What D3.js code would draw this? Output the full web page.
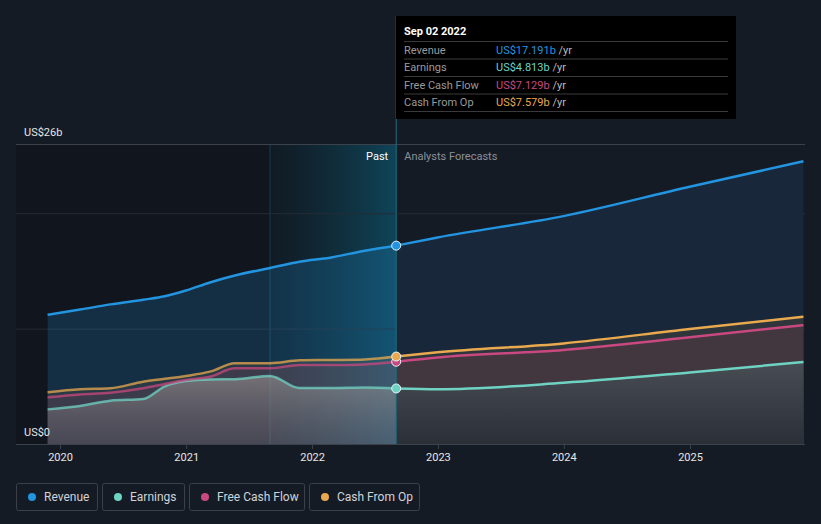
<!DOCTYPE html>
<html>
<head>
<meta charset="utf-8">
<script src="https://cdn.jsdelivr.net/npm/d3@7"></script>
<style>
  body { margin: 0; background: #151b25; font-family: Roboto, "Open Sans", sans-serif; }
  svg { display: block; }
</style>
</head>
<body>
<script>
// Revenue / earnings / cash flow history and analyst forecasts (US$ billions)

var pastDates = ["2019-11-26", "2020-02-28", "2020-05-26", "2020-08-29", "2020-10-31", "2020-12-31",
                 "2021-03-11", "2021-05-22", "2021-09-01", "2021-11-26", "2022-02-22", "2022-06-03", "2022-09-02"];
var futureDates = ["2022-12-31", "2023-12-31", "2024-12-31", "2025-11-26"];

var revenuePast  = [11.2, 11.65, 12.1, 12.5, 12.8, 13.3, 14.0, 14.6, 15.25, 15.8, 16.15, 16.75, 17.191];
var earningsPast = [3.0, 3.3, 3.75, 3.9, 5.0, 5.45, 5.6, 5.62, 5.9, 4.85, 4.85, 4.9, 4.813];
var fcfPast      = [4.05, 4.3, 4.45, 4.83, 5.2, 5.55, 5.83, 6.56, 6.56, 6.85, 6.85, 6.9, 7.129];
var cfoPast      = [4.48, 4.74, 4.83, 5.4, 5.65, 5.9, 6.27, 7.0, 7.0, 7.25, 7.28, 7.33, 7.579];

var revenueFuture  = [17.9, 19.75, 22.3, 24.5];
var earningsFuture = [4.75, 5.3, 6.2, 7.1];
var fcfFuture      = [7.5, 8.15, 9.25, 10.3];
var cfoFuture      = [7.95, 8.72, 9.97, 11.03];

var seriesNames  = ["Revenue", "Earnings", "Free Cash Flow", "Cash From Op"];
var seriesColors = ["#2394df", "#6fd3c3", "#c9487f", "#e9a94f"];
var tooltipValues = ["US$17.191b", "US$4.813b", "US$7.129b", "US$7.579b"];
var yTickValues = [0, 10, 20, 26];

var svgwidth = 821;
var svgheight = 524;
var margin = { top: 144, right: 16, bottom: 80, left: 16 };
var width = svgwidth - margin.left - margin.right;
var height = svgheight - margin.top - margin.bottom;

var parse = d3.timeParse("%Y-%m-%d");
var nowDate = parse("2022-09-02");
var bandStart = parse("2021-09-01");

function build(dates, values) {
    return dates.map(function(d, i) { return { date: parse(d), value: values[i] }; });
}

// forecast lines start from the last reported value
var series = [
    { past: build(pastDates, revenuePast),  future: build(pastDates.slice(-1).concat(futureDates), [revenuePast[12]].concat(revenueFuture)) },
    { past: build(pastDates, earningsPast), future: build(pastDates.slice(-1).concat(futureDates), [earningsPast[12]].concat(earningsFuture)) },
    { past: build(pastDates, fcfPast),      future: build(pastDates.slice(-1).concat(futureDates), [fcfPast[12]].concat(fcfFuture)) },
    { past: build(pastDates, cfoPast),      future: build(pastDates.slice(-1).concat(futureDates), [cfoPast[12]].concat(cfoFuture)) }
];

var svg = d3.select("body").append("svg")
    .attr("width", svgwidth)
    .attr("height", svgheight);

var defs = svg.append("defs");

var band = defs.append("linearGradient").attr("id", "band");
band.append("stop").attr("offset", "0%").attr("stop-color", "#0f3a4a").attr("stop-opacity", 0.15);
band.append("stop").attr("offset", "100%").attr("stop-color", "#0e4d63").attr("stop-opacity", 0.85);

// gray fill under earnings in the forecast part
var earnGrad = defs.append("linearGradient").attr("id", "earnGrad")
    .attr("gradientUnits", "userSpaceOnUse")
    .attr("x1", 0).attr("x2", 0).attr("y1", 210).attr("y2", 300);
earnGrad.append("stop").attr("offset", "0%").attr("stop-color", "#4b4f56");
earnGrad.append("stop").attr("offset", "100%").attr("stop-color", "#2b2f37");

var pastGrad = defs.append("linearGradient").attr("id", "pastGrad")
    .attr("gradientUnits", "userSpaceOnUse")
    .attr("x1", 0).attr("x2", 0).attr("y1", 225).attr("y2", 300);
pastGrad.append("stop").attr("offset", "0%").attr("stop-color", "#b8b0a8").attr("stop-opacity", 0.5);
pastGrad.append("stop").attr("offset", "100%").attr("stop-color", "#8a8a8a").attr("stop-opacity", 0.15);

var chartGroup = svg.append("g")
    .attr("transform", `translate(${margin.left}, ${margin.top})`);

var xScale = d3.scaleTime()
    .domain([parse("2020-01-01"), parse("2025-01-01")])
    .range([44, 674]);

var yScale = d3.scaleLinear()
    .domain([0, 26])
    .range([height, 0]);

// past region background
chartGroup.append("rect")
    .attr("x", 0).attr("y", 0)
    .attr("width", xScale(nowDate)).attr("height", height)
    .attr("fill", "#11151d");

chartGroup.append("rect")
    .attr("x", xScale(bandStart)).attr("y", 0)
    .attr("width", xScale(nowDate) - xScale(bandStart)).attr("height", height)
    .attr("fill", "url(#band)");

chartGroup.append("line")
    .attr("x1", xScale(bandStart)).attr("x2", xScale(bandStart))
    .attr("y1", 0).attr("y2", height)
    .attr("stroke", "#163f4c").attr("stroke-width", 1);

// gridlines
chartGroup.selectAll(".grid")
    .data(yTickValues.slice(1))
    .enter()
    .append("line")
    .attr("x1", 0).attr("x2", width)
    .attr("y1", d => yScale(d) + 0.5).attr("y2", d => yScale(d) + 0.5)
    .attr("stroke", d => d === 26 ? "#3c424b" : "#262c35")
    .attr("stroke-width", 1);

// areas
var area = d3.area()
    .x(d => xScale(d.date))
    .y0(yScale(0))
    .y1(d => yScale(d.value))
    .curve(d3.curveMonotoneX);

var line = d3.line()
    .x(d => xScale(d.date))
    .y(d => yScale(d.value))
    .curve(d3.curveMonotoneX);

// past: translucent layers
var pastFill = ["#2394df", "url(#pastGrad)", "#c9487f", "#e9a94f"];
var pastOpacity = [0.2, 1, 0.12, 0.1];
// forecast: opaque layers, drawn back to front
var futureFill = ["#182739", "url(#earnGrad)", "#43373f", "#2e363b"];
var drawOrder = [0, 3, 2, 1];

drawOrder.forEach(function(i) {
    var s = series[i];
    chartGroup.append("path")
        .attr("d", area(s.past))
        .attr("fill", pastFill[i])
        .attr("fill-opacity", pastOpacity[i]);
    chartGroup.append("path")
        .attr("d", area(s.future))
        .attr("fill", futureFill[i]);
});

series.forEach(function(s, i) {
    chartGroup.append("path")
        .attr("d", line(s.past))
        .attr("fill", "none")
        .attr("stroke", seriesColors[i])
        .attr("stroke-opacity", i === 0 ? 1 : 0.75)
        .attr("stroke-width", 2.5);
    chartGroup.append("path")
        .attr("d", line(s.future))
        .attr("fill", "none")
        .attr("stroke", seriesColors[i])
        .attr("stroke-width", 2.5);
});

// current date marker line
chartGroup.append("line")
    .attr("x1", xScale(nowDate)).attr("x2", xScale(nowDate))
    .attr("y1", 16 - margin.top).attr("y2", height)
    .attr("stroke", "#1d6e80").attr("stroke-width", 1);

// points at current date
chartGroup.selectAll(".dot")
    .data(series)
    .enter()
    .append("circle")
    .attr("cx", d => xScale(d.past[d.past.length - 1].date))
    .attr("cy", d => yScale(d.past[d.past.length - 1].value))
    .attr("r", 4.5)
    .attr("fill", (d, i) => seriesColors[i])
    .attr("stroke", "#e8f4ff")
    .attr("stroke-width", 1);

// x axis
var bottomAxis = d3.axisBottom(xScale)
    .ticks(d3.timeYear.every(1))
    .tickFormat(d3.timeFormat("%Y"))
    .tickSize(5)
    .tickPadding(4);

var xAxis = chartGroup.append("g")
    .attr("transform", `translate(0, ${height})`)
    .call(bottomAxis);
xAxis.select(".domain").attr("stroke", "#3c424b").attr("d", `M0,0.5H${width}`);
xAxis.selectAll(".tick line").attr("stroke", "#3c424b");
xAxis.selectAll(".tick text").attr("fill", "#e6e6e6").attr("font-size", 11).attr("font-family", "Roboto");

// y labels
chartGroup.append("text")
    .attr("x", 8).attr("y", yScale(26) - 8)
    .attr("fill", "#e6e6e6").attr("font-size", 11)
    .text("US$26b");
chartGroup.append("text")
    .attr("x", 8).attr("y", yScale(0) - 8)
    .attr("fill", "#e6e6e6").attr("font-size", 11)
    .text("US$0");

// past / forecast labels
chartGroup.append("text")
    .attr("x", xScale(nowDate) - 8).attr("y", 16)
    .attr("text-anchor", "end")
    .attr("fill", "#ffffff").attr("font-size", 11)
    .text("Past");
chartGroup.append("text")
    .attr("x", xScale(nowDate) + 8).attr("y", 16)
    .attr("fill", "#8b9098").attr("font-size", 11)
    .text("Analysts Forecasts");

// tooltip
var tip = svg.append("g").attr("transform", "translate(396, 16)");
tip.append("rect")
    .attr("width", 340).attr("height", 103)
    .attr("fill", "#000000");
tip.append("text")
    .attr("x", 8).attr("y", 19)
    .attr("fill", "#ffffff").attr("font-size", 11).attr("font-weight", "bold")
    .text("Sep 02 2022");

seriesNames.forEach(function(name, i) {
    var yy = 25 + i * 17.5;
    tip.append("line")
        .attr("x1", 8).attr("x2", 332)
        .attr("y1", yy + 0.5).attr("y2", yy + 0.5)
        .attr("stroke", "#3a3a3a");
    tip.append("text")
        .attr("x", 8).attr("y", yy + 12.5)
        .attr("fill", "#9a9a9a").attr("font-size", 11)
        .text(name);
    var t = tip.append("text")
        .attr("x", 100).attr("y", yy + 12.5)
        .attr("font-size", 11);
    t.append("tspan").attr("fill", seriesColors[i]).text(tooltipValues[i]);
    t.append("tspan").attr("fill", "#bdbdbd").text(" /yr");
});
tip.append("line")
    .attr("x1", 8).attr("x2", 332)
    .attr("y1", 25 + 4 * 17.5 + 0.5).attr("y2", 25 + 4 * 17.5 + 0.5)
    .attr("stroke", "#3a3a3a");

// legend
var legendX = [16, 102, 189, 309];
var legendW = [81, 82, 115, 110];
var legend = svg.append("g").attr("transform", "translate(0, 483)");
seriesNames.forEach(function(name, i) {
    var g = legend.append("g").attr("transform", `translate(${legendX[i]}, 0)`);
    g.append("rect")
        .attr("x", 0.5).attr("y", 0.5)
        .attr("width", legendW[i]).attr("height", 27)
        .attr("rx", 2)
        .attr("fill", "none")
        .attr("stroke", "#3b4049");
    g.append("circle")
        .attr("cx", 16).attr("cy", 14)
        .attr("r", 4)
        .attr("fill", seriesColors[i]);
    g.append("text")
        .attr("x", 28).attr("y", 18)
        .attr("fill", "#d0d3d8").attr("font-size", 12)
        .text(name);
});
</script>
</body>
</html>
